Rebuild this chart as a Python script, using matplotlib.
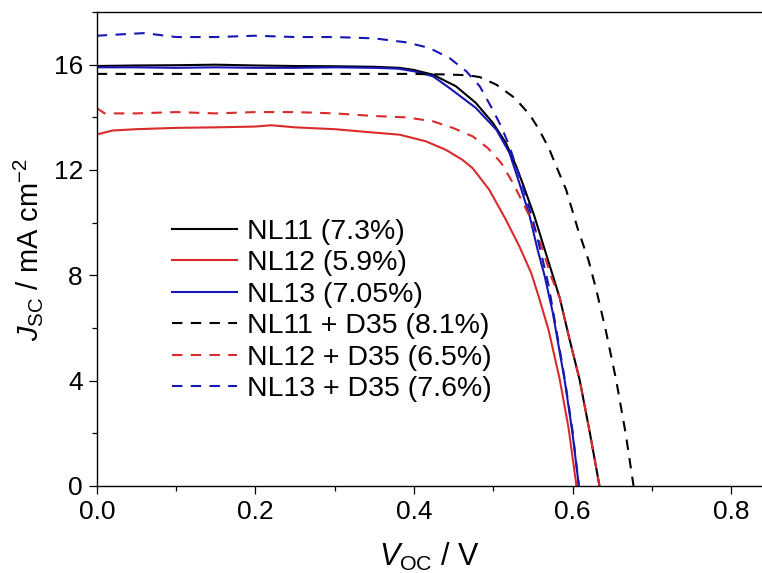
import matplotlib
matplotlib.use('Agg')
from matplotlib import pyplot as plt
from matplotlib.ticker import MultipleLocator

plt.rcParams['font.family'] = ['Liberation Sans', 'DejaVu Sans']
plt.rcParams['mathtext.fontset'] = 'custom'
plt.rcParams['mathtext.rm'] = 'Liberation Sans'
plt.rcParams['mathtext.it'] = 'Liberation Sans:italic'

# NL11 (black, solid)
v_nl11 = [0, .05, .1, .15, .2, .25, .3, .35, .382, .40, .424, .453, .478, .4995,
          .516, .529, .537, .552, .565, .5755, .584, .596, .609, .622, .634]
j_nl11 = [15.95, 15.97, 15.98, 16.0, 15.97, 15.95, 15.94, 15.92, 15.88, 15.8, 15.62,
          15.18, 14.55, 13.79, 13.03, 12.14, 11.5, 10.24, 8.97, 7.96, 7.13, 5.6,
          4.03, 2.0, 0.0]

# NL12 (red, solid)
v_nl12 = [0, .02, .05, .1, .15, .2, .22, .25, .3, .35, .382, .415, .44, .461, .474,
          .495, .516, .533, .548, .558, .570, .584, .595, .605]
j_nl12 = [13.35, 13.5, 13.55, 13.6, 13.62, 13.65, 13.7, 13.62, 13.55, 13.42, 13.34,
          13.09, 12.77, 12.39, 12.07, 11.25, 10.11, 9.1, 8.08, 7.13, 5.9, 4.03, 2.2, 0.0]

# NL13 (blue, solid)
v_nl13 = [0, .05, .1, .15, .2, .25, .3, .35, .38, .40, .424, .445, .478, .504,
          .5205, .533, .546, .556, .565, .575, .590, .600, .608]
j_nl13 = [15.9, 15.9, 15.88, 15.9, 15.88, 15.88, 15.9, 15.88, 15.85, 15.75, 15.56,
          15.11, 14.36, 13.53, 12.65, 11.5, 10.24, 8.97, 7.96, 6.6, 4.03, 2.0, 0.0]

# NL11 + D35 (black, dashed)
v_nl11d = [0, .1, .2, .3, .35, .394, .44, .467, .483, .504, .527, .546, .558, .571,
           .5795, .592, .607, .62, .63, .642, .655, .667, .677]
j_nl11d = [15.65, 15.65, 15.65, 15.65, 15.65, 15.65, 15.63, 15.6, 15.53, 15.24, 14.74,
           14.1, 13.53, 12.77, 12.14, 11.25, 9.73, 8.59, 7.45, 5.9, 4.03, 2.0, 0.0]

# NL12 + D35 (red, dashed)
v_nl12d = [0, .01, .05, .1, .15, .2, .25, .3, .35, .39, .424, .449, .474, .493, .51,
           .525, .546, .561, .573, .584, .596, .609, .622, .634]
j_nl12d = [14.35, 14.15, 14.15, 14.2, 14.15, 14.2, 14.2, 14.15, 14.05, 14.0, 13.85,
           13.6, 13.28, 12.84, 12.27, 11.5, 10.24, 9.1, 7.96, 7.13, 5.6, 4.03, 2.0, 0.0]

# NL13 + D35 (blue, dashed)
v_nl13d = [0, .03, .06, .1, .15, .2, .25, .3, .35, .39, .419, .445, .466, .483, .497,
           .51, .5205, .537, .55, .56, .57, .59, .60, .608]
j_nl13d = [17.1, 17.15, 17.2, 17.05, 17.05, 17.1, 17.05, 17.05, 17.0, 16.85, 16.64,
           16.25, 15.75, 15.18, 14.42, 13.66, 12.9, 11.4, 10.1, 8.9, 7.6, 4.1, 2.1, 0.0]

black = 'black'
red = '#d92b2b'
blue = '#1616b4'

fig = plt.figure(figsize=(7.62, 5.73), dpi=100)
ax = fig.add_axes([0.127, 0.152, 0.873, 0.827])

ax.plot(v_nl11, j_nl11, color=black, lw=1.5, label='NL11 (7.3%)')
ax.plot(v_nl12, j_nl12, color=red, lw=1.5, label='NL12 (5.9%)')
ax.plot(v_nl13, j_nl13, color=blue, lw=1.5, label='NL13 (7.05%)')
ax.plot(v_nl11d, j_nl11d, color=black, lw=1.5, ls=(0, (5, 4)), label='NL11 + D35 (8.1%)')
ax.plot(v_nl12d, j_nl12d, color=red, lw=1.5, ls=(0, (5, 4)), label='NL12 + D35 (6.5%)')
ax.plot(v_nl13d, j_nl13d, color=blue, lw=1.5, ls=(0, (5, 4)), label='NL13 + D35 (7.6%)')

ax.set_xlim(0, 0.839)
ax.set_ylim(0, 18)
ax.xaxis.set_major_locator(MultipleLocator(0.2))
ax.xaxis.set_minor_locator(MultipleLocator(0.1))
ax.yaxis.set_major_locator(MultipleLocator(4))
ax.yaxis.set_minor_locator(MultipleLocator(2))
ax.xaxis.set_major_formatter(plt.FuncFormatter(lambda v, p: f'{v:.1f}'))

ax.spines['right'].set_visible(False)
for s in ['left', 'bottom', 'top']:
    ax.spines[s].set_linewidth(1.0)
ax.tick_params(which='major', direction='out', length=6, width=0.9, labelsize=19, pad=4)
ax.tick_params(which='minor', direction='out', length=3.5, width=0.9)
ax.tick_params(top=False, right=False, which='both')

ax.set_xlabel(r'$V_{\mathrm{OC}}$ / V', fontsize=22, labelpad=12)
ax.set_ylabel(r'$J_{\mathrm{SC}}$ / mA cm$^{-2}$', fontsize=21, labelpad=6)

ax.legend(loc='center left', bbox_to_anchor=(0.113, 0.370), frameon=False,
          fontsize=20.5, handlelength=2.28, handletextpad=0.35, labelspacing=0.19,
          borderpad=0, borderaxespad=0)

fig.savefig('out.png', dpi=100)
